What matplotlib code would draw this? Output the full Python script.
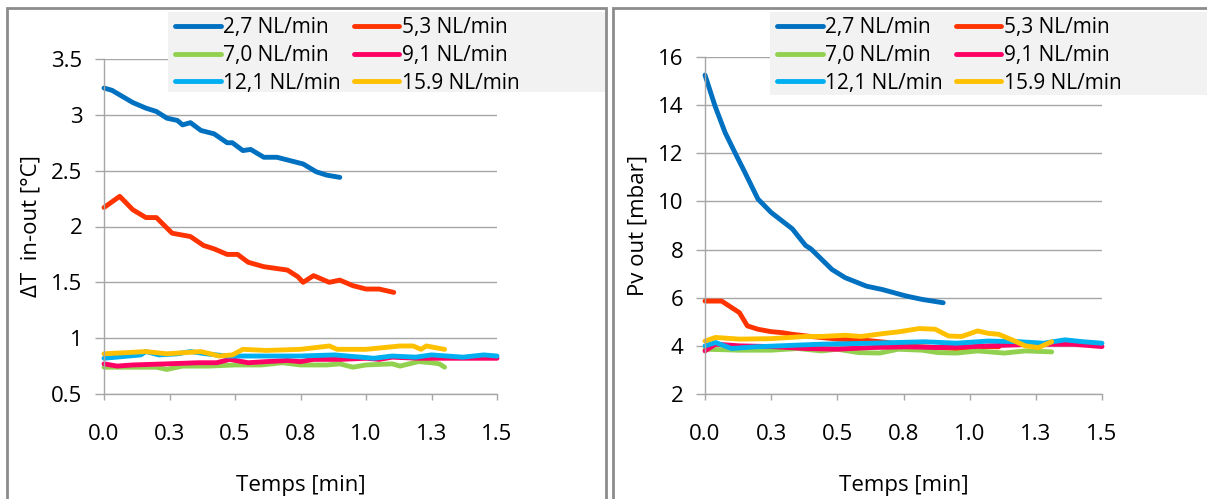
#! /usr/bin/env python3

"""Plot temperature difference and vapour pressure against time for each flow."""

import matplotlib
matplotlib.use('Agg')
import matplotlib.pyplot as plt
from matplotlib.patches import Rectangle

# Legend labels and line colours, one per flow rate
labels = ['2,7 NL/min', '5,3 NL/min', '7,0 NL/min',
          '9,1 NL/min', '12,1 NL/min', '15.9 NL/min']
colors = ['#0070C0', '#FF3300', '#92D050', '#FF0066', '#00B0F0', '#FFC000']

# Left panel: delta T in-out [degC] against time [min]
dt_t_27 = [0.0, 0.03, 0.11, 0.16, 0.20, 0.24, 0.28, 0.30, 0.33, 0.37, 0.42,
           0.47, 0.49, 0.53, 0.56, 0.61, 0.66, 0.71, 0.76, 0.81, 0.85, 0.90]
dt_v_27 = [3.24, 3.22, 3.11, 3.06, 3.03, 2.97, 2.95, 2.91, 2.93, 2.86, 2.83,
           2.75, 2.75, 2.68, 2.69, 2.62, 2.62, 2.59, 2.56, 2.49, 2.46, 2.44]
dt_t_53 = [0.0, 0.06, 0.11, 0.16, 0.20, 0.26, 0.33, 0.38, 0.42, 0.47, 0.51,
           0.55, 0.61, 0.70, 0.74, 0.76, 0.80, 0.86, 0.90, 0.95, 1.00, 1.05,
           1.106]
dt_v_53 = [2.17, 2.27, 2.15, 2.08, 2.08, 1.94, 1.91, 1.83, 1.80, 1.75, 1.75,
           1.68, 1.64, 1.61, 1.55, 1.50, 1.56, 1.50, 1.52, 1.47, 1.44, 1.44,
           1.41]
dt_t_70 = [0.0, 0.10, 0.20, 0.24, 0.30, 0.40, 0.50, 0.60, 0.68, 0.75, 0.85,
           0.90, 0.95, 1.00, 1.10, 1.13, 1.20, 1.25, 1.28, 1.30]
dt_v_70 = [0.74, 0.74, 0.74, 0.72, 0.75, 0.75, 0.76, 0.76, 0.78, 0.76, 0.76,
           0.77, 0.74, 0.76, 0.77, 0.75, 0.79, 0.78, 0.77, 0.74]
dt_t_91 = [0.0, 0.05, 0.11, 0.24, 0.36, 0.43, 0.48, 0.55, 0.62, 0.70, 0.75,
           0.80, 0.90, 1.00, 1.05, 1.10, 1.20, 1.30, 1.40, 1.50]
dt_v_91 = [0.77, 0.75, 0.76, 0.77, 0.78, 0.78, 0.81, 0.78, 0.79, 0.80, 0.79,
           0.81, 0.81, 0.82, 0.81, 0.83, 0.82, 0.82, 0.82, 0.82]
dt_t_121 = [0.0, 0.14, 0.16, 0.21, 0.28, 0.33, 0.39, 0.47, 0.53, 0.75, 0.88,
            1.03, 1.10, 1.19, 1.25, 1.37, 1.45, 1.50]
dt_v_121 = [0.82, 0.85, 0.88, 0.85, 0.86, 0.88, 0.86, 0.84, 0.84, 0.84, 0.85,
            0.82, 0.84, 0.83, 0.85, 0.83, 0.85, 0.84]
dt_t_159 = [0.0, 0.16, 0.24, 0.37, 0.44, 0.49, 0.53, 0.62, 0.75, 0.86, 0.89,
            1.00, 1.13, 1.18, 1.21, 1.23, 1.30]
dt_v_159 = [0.86, 0.88, 0.86, 0.88, 0.84, 0.85, 0.90, 0.89, 0.90, 0.93, 0.90,
            0.90, 0.93, 0.93, 0.90, 0.93, 0.90]

# Right panel: Pv out [mbar] against time [min]
pv_t_27 = [0.0, 0.038, 0.076, 0.113, 0.151, 0.20, 0.25, 0.33, 0.38, 0.40,
           0.48, 0.53, 0.61, 0.67, 0.76, 0.82, 0.90]
pv_v_27 = [15.25, 13.96, 12.86, 12.03, 11.2, 10.1, 9.54, 8.86, 8.17, 8.03,
           7.17, 6.83, 6.48, 6.34, 6.07, 5.93, 5.79]
pv_t_53 = [0.0, 0.063, 0.13, 0.16, 0.20, 0.25, 0.29, 0.33, 0.40, 0.50, 0.59,
           0.69, 0.76, 0.87, 0.95, 1.00, 1.07, 1.11]
pv_v_53 = [5.86, 5.86, 5.38, 4.83, 4.69, 4.59, 4.55, 4.48, 4.39, 4.28, 4.25,
           4.14, 4.00, 3.93, 3.89, 3.93, 3.97, 3.96]
pv_t_70 = [0.0, 0.13, 0.25, 0.35, 0.44, 0.50, 0.58, 0.66, 0.73, 0.82, 0.88,
           0.95, 1.03, 1.13, 1.21, 1.31]
pv_v_70 = [3.86, 3.82, 3.82, 3.89, 3.79, 3.86, 3.72, 3.70, 3.86, 3.82, 3.72,
           3.70, 3.79, 3.70, 3.79, 3.75]
pv_t_91 = [0.0, 0.04, 0.13, 0.25, 0.38, 0.50, 0.63, 0.76, 0.88, 1.01, 1.14,
           1.26, 1.39, 1.50]
pv_v_91 = [3.79, 4.07, 4.00, 3.97, 3.89, 3.86, 3.93, 3.96, 3.93, 3.97, 4.03,
           4.07, 4.07, 3.97]
pv_t_121 = [0.0, 0.04, 0.10, 0.19, 0.28, 0.44, 0.63, 0.83, 0.95, 1.07, 1.19,
            1.28, 1.36, 1.43, 1.50]
pv_v_121 = [4.00, 4.14, 3.89, 3.96, 4.00, 4.07, 4.11, 4.17, 4.11, 4.20, 4.17,
            4.11, 4.25, 4.17, 4.11]
pv_t_159 = [0.0, 0.04, 0.13, 0.25, 0.38, 0.44, 0.53, 0.59, 0.68, 0.73, 0.81,
            0.87, 0.92, 0.97, 1.03, 1.07, 1.11, 1.16, 1.21, 1.26, 1.31]
pv_v_159 = [4.20, 4.35, 4.28, 4.30, 4.39, 4.39, 4.44, 4.39, 4.52, 4.58, 4.72,
            4.69, 4.41, 4.39, 4.62, 4.52, 4.48, 4.25, 4.00, 3.93, 4.17]

# Shared x axis ticks (Excel rounds 0.25 steps to one decimal)
x_ticks = [0.0, 0.25, 0.5, 0.75, 1.0, 1.25, 1.5]
x_tick_labels = ['0.0', '0.3', '0.5', '0.8', '1.0', '1.3', '1.5']
dt_ticks = [0.5, 1.0, 1.5, 2.0, 2.5, 3.0, 3.5]
dt_tick_labels = ['0.5', '1', '1.5', '2', '2.5', '3', '3.5']
pv_ticks = [2, 4, 6, 8, 10, 12, 14, 16]

GRAY = '#A6A6A6'
W, H = 1207, 499
FONT = 16


def px_rect(x0, y0, x1, y1):
    """Convert a pixel box (top-left origin) to figure fractions."""
    return [x0 / W, 1 - y1 / H, (x1 - x0) / W, (y1 - y0) / H]


def style_axes(ax, yticks, ylabels, ylim, ylabel):
    """Apply the Excel-like look to one panel."""
    ax.set_xlim(0, 1.5)
    ax.set_ylim(*ylim)
    ax.set_xticks(x_ticks)
    ax.set_xticklabels(x_tick_labels)
    ax.set_yticks(yticks)
    ax.set_yticklabels(ylabels)
    ax.yaxis.grid(True, color=GRAY, linewidth=1.0)
    ax.set_axisbelow(True)
    for side in ('top', 'right'):
        ax.spines[side].set_visible(False)
    for side in ('left', 'bottom'):
        ax.spines[side].set_color(GRAY)
        ax.spines[side].set_linewidth(1.0)
    ax.tick_params(axis='x', length=4.5, width=1.0, color=GRAY,
                   labelsize=FONT, pad=17)
    ax.tick_params(axis='y', length=6.5, width=1.0, color=GRAY,
                   labelsize=FONT, pad=9)
    ax.set_xlabel('Temps [min]', fontsize=FONT, labelpad=22)
    ax.set_ylabel(ylabel, fontsize=FONT, labelpad=7)


def add_legend(fig, ax, box):
    """Two-column grey legend across the top right of a panel."""
    x0, y0, x1, y1 = box
    fig.add_artist(Rectangle((x0 / W, 1 - y1 / H), (x1 - x0) / W,
                             (y1 - y0) / H, transform=fig.transFigure,
                             facecolor='#F2F2F2', edgecolor='none',
                             zorder=1))
    handles, names = ax.get_legend_handles_labels()
    # Excel fills the legend row by row
    order = [0, 2, 4, 1, 3, 5]
    leg = fig.legend([handles[i] for i in order], [names[i] for i in order],
                     loc='upper left', ncol=2,
                     bbox_to_anchor=((x0 + 7) / W, 1 - (y0 + 5) / H),
                     fontsize=15, frameon=False,
                     handlelength=2.2, handletextpad=0.12, columnspacing=0.6,
                     labelspacing=0.33, borderpad=0.0, borderaxespad=0.0)
    for line in leg.get_lines():
        line.set_linewidth(3.5)


def make_plots():
    """Draw both panels and save the figure."""
    plt.rcParams['font.family'] = ['Open Sans', 'DejaVu Sans']
    fig = plt.figure(figsize=(W / 100, H / 100), dpi=100)

    # Panel frames
    for x0, x1 in ((7, 606), (613, 1212)):
        fig.add_artist(Rectangle((x0 / W, -0.05), (x1 - x0) / W,
                                 1.05 - 8 / H, transform=fig.transFigure,
                                 facecolor='none', edgecolor='#8C8C8C',
                                 linewidth=2.0, clip_on=False, zorder=2))

    ax1 = fig.add_axes(px_rect(104, 59, 497, 394))
    ax2 = fig.add_axes(px_rect(705, 57, 1102, 394))

    dt_series = [(dt_t_27, dt_v_27), (dt_t_53, dt_v_53), (dt_t_70, dt_v_70),
                 (dt_t_91, dt_v_91), (dt_t_121, dt_v_121),
                 (dt_t_159, dt_v_159)]
    pv_series = [(pv_t_27, pv_v_27), (pv_t_53, pv_v_53), (pv_t_70, pv_v_70),
                 (pv_t_91, pv_v_91), (pv_t_121, pv_v_121),
                 (pv_t_159, pv_v_159)]

    for (t, v), color, label in zip(dt_series, colors, labels):
        ax1.plot(t, v, color=color, linewidth=3.5, label=label,
                 solid_capstyle='round', solid_joinstyle='round',
                 clip_on=False)
    for (t, v), color, label in zip(pv_series, colors, labels):
        ax2.plot(t, v, color=color, linewidth=3.5, label=label,
                 solid_capstyle='round', solid_joinstyle='round',
                 clip_on=False)

    style_axes(ax1, dt_ticks, dt_tick_labels, (0.5, 3.5), 'ΔT  in-out [°C]')
    style_axes(ax2, pv_ticks, [str(v) for v in pv_ticks], (2, 16),
               'Pv out [mbar]')

    add_legend(fig, ax1, (168, 12, 606, 92))
    add_legend(fig, ax2, (770, 12, 1207, 95))

    fig.savefig('out.png', dpi=100)


if __name__ == "__main__":
    make_plots()
